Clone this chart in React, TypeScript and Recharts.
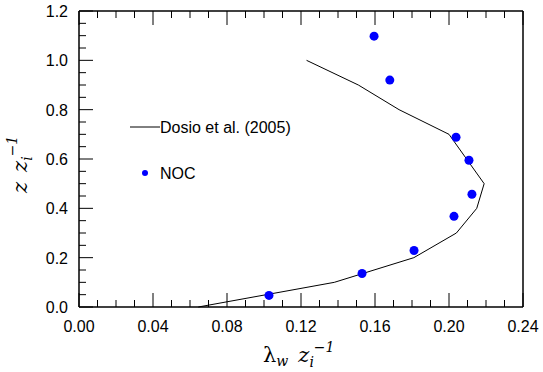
import { ComposedChart, Line, XAxis, YAxis } from "recharts"

// Dosio et al. (2005) profile, lambda_w / zi vs z / zi
const dosioX = [0.123, 0.151, 0.173, 0.2, 0.2095, 0.219, 0.215, 0.204, 0.181, 0.138, 0.0645]
const dosioZ = [1.0, 0.9, 0.8, 0.7, 0.6, 0.5, 0.4, 0.3, 0.2, 0.1, 0.0]

// NOC points
const nocX = [0.1595, 0.168, 0.2038, 0.2108, 0.2124, 0.2027, 0.1811, 0.153, 0.1027]
const nocZ = [1.098, 0.92, 0.688, 0.595, 0.457, 0.3675, 0.229, 0.136, 0.047]

const xTicks = [
  0, 0.01, 0.02, 0.03, 0.04, 0.05, 0.06, 0.07, 0.08, 0.09, 0.1, 0.11, 0.12,
  0.13, 0.14, 0.15, 0.16, 0.17, 0.18, 0.19, 0.2, 0.21, 0.22, 0.23, 0.24,
]
const yTicks = [
  0, 0.05, 0.1, 0.15, 0.2, 0.25, 0.3, 0.35, 0.4, 0.45, 0.5, 0.55, 0.6, 0.65,
  0.7, 0.75, 0.8, 0.85, 0.9, 0.95, 1.0, 1.05, 1.1, 1.15, 1.2,
]

// one table for the chart: dosio rows first (in profile order), then NOC rows
const rows = [
  ...dosioX.map((x, i) => ({ x, dosio: dosioZ[i] })),
  ...nocX.map((x, i) => ({ x, noc: nocZ[i] })),
]

const FONT = "'Liberation Sans', Arial, sans-serif"
const SERIF = "'DejaVu Serif', 'Liberation Serif', serif"

const isMajorX = (v: number) => Math.round(v * 100) % 4 === 0
const isMajorY = (v: number) => Math.round(v * 100) % 20 === 0

function BottomTick(props: any) {
  const { x, y, payload } = props
  const v = payload.value
  const major = isMajorX(v)
  return (
    <g>
      <line x1={x} x2={x} y1={y} y2={y - (major ? 14 : 7)} stroke="#000" strokeWidth={1} />
      {major && (
        <text x={x} y={y + 25} textAnchor="middle" fontSize={16} fontFamily={FONT} fill="#000">
          {v.toFixed(2)}
        </text>
      )}
    </g>
  )
}

function TopTick(props: any) {
  const { x, y, payload } = props
  const major = isMajorX(payload.value)
  return (
    <g>
      <line x1={x} x2={x} y1={y} y2={y + (major ? 14 : 7)} stroke="#000" strokeWidth={1} />
    </g>
  )
}

function LeftTick(props: any) {
  const { x, y, payload } = props
  const v = payload.value
  const major = isMajorY(v)
  return (
    <g>
      <line x1={x} x2={x + (major ? 14 : 7)} y1={y} y2={y} stroke="#000" strokeWidth={1} />
      {major && (
        <text x={x - 11} y={y + 6} textAnchor="end" fontSize={16} fontFamily={FONT} fill="#000">
          {v.toFixed(1)}
        </text>
      )}
    </g>
  )
}

function RightTick(props: any) {
  const { x, y, payload } = props
  const major = isMajorY(payload.value)
  return (
    <g>
      <line x1={x} x2={x - (major ? 14 : 7)} y1={y} y2={y} stroke="#000" strokeWidth={1} />
    </g>
  )
}

function XTitle() {
  return (
    <text x={263} y={362} fontSize={21} fontFamily={SERIF} fill="#000">
      λ
      <tspan fontSize={14} fontStyle="italic" dy={4}>w</tspan>
      <tspan fontStyle="italic" dx={10} dy={-4}>z</tspan>
      <tspan fontSize={14} fontStyle="italic" dy={5}>i</tspan>
      <tspan fontSize={14} fontStyle="italic" dy={-15}>−1</tspan>
    </text>
  )
}

function YTitle() {
  return (
    <text transform="translate(27, 193) rotate(-90)" fontSize={21} fontFamily={SERIF} fontStyle="italic" fill="#000">
      z
      <tspan dx={10}>z</tspan>
      <tspan fontSize={14} dy={5}>i</tspan>
      <tspan fontSize={14} dy={-15}>−1</tspan>
    </text>
  )
}

function LegendBox() {
  return (
    <g>
      <line x1={130} x2={160} y1={127} y2={127} stroke="#000" strokeWidth={1} />
      <text x={160} y={133} fontSize={16} fontFamily={FONT} fill="#000">
        Dosio et al. (2005)
      </text>
      <circle cx={145} cy={173} r={3} fill="#0000ff" />
      <text x={160} y={179} fontSize={16} fontFamily={FONT} fill="#000">
        NOC
      </text>
    </g>
  )
}

export default function App() {
  return (
    <div style={{ position: "absolute", left: 0, top: 0, width: 543, height: 372, background: "#fff" }}>
      <ComposedChart
        width={543}
        height={372}
        data={rows}
        margin={{ top: 10, right: 19, bottom: 0, left: 0 }}
      >
        <XAxis
          xAxisId="b"
          type="number"
          dataKey="x"
          domain={[0, 0.24]}
          ticks={xTicks}
          interval={0}
          height={65}
          tickSize={0}
          tickMargin={0}
          tickLine={false}
          axisLine={{ stroke: "#000", strokeWidth: 1.5 }}
          tick={<BottomTick />}
          label={<XTitle />}
        />
        <XAxis
          xAxisId="t"
          orientation="top"
          type="number"
          dataKey="x"
          domain={[0, 0.24]}
          ticks={xTicks}
          interval={0}
          height={1}
          tickSize={0}
          tickMargin={0}
          tickLine={false}
          axisLine={{ stroke: "#000", strokeWidth: 1.5 }}
          tick={<TopTick />}
          label={<LegendBox />}
        />
        <YAxis
          yAxisId="l"
          type="number"
          domain={[0, 1.2]}
          ticks={yTicks}
          interval={0}
          width={79}
          tickSize={0}
          tickMargin={0}
          tickLine={false}
          axisLine={{ stroke: "#000", strokeWidth: 1.5 }}
          tick={<LeftTick />}
          label={<YTitle />}
        />
        <YAxis
          yAxisId="r"
          orientation="right"
          type="number"
          domain={[0, 1.2]}
          ticks={yTicks}
          interval={0}
          width={1}
          tickSize={0}
          tickMargin={0}
          tickLine={false}
          axisLine={{ stroke: "#000", strokeWidth: 1.5 }}
          tick={<RightTick />}
        />
        <Line
          xAxisId="b"
          yAxisId="l"
          dataKey="dosio"
          type="linear"
          stroke="#000"
          strokeWidth={1}
          dot={false}
          connectNulls
          isAnimationActive={false}
        />
        <Line
          xAxisId="b"
          yAxisId="l"
          dataKey="noc"
          stroke="none"
          dot={{ r: 4.5, fill: "#0000ff", stroke: "none" }}
          isAnimationActive={false}
        />
      </ComposedChart>
    </div>
  )
}
